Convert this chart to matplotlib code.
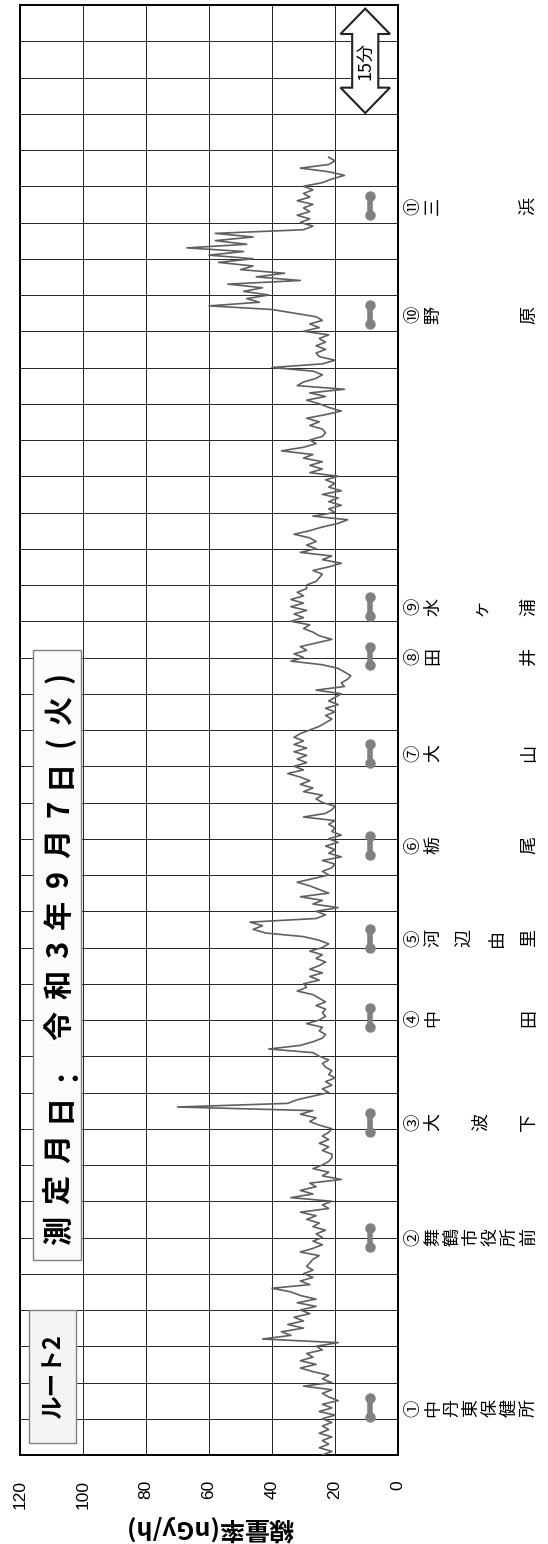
import matplotlib
matplotlib.use('Agg')
import matplotlib.pyplot as plt
import numpy as np
from matplotlib.patches import Polygon, Rectangle
from matplotlib.transforms import blended_transform_factory

plt.rcParams['font.family'] = ['Noto Sans CJK JP', 'DejaVu Sans']

# ---------------- data ----------------
step_min = 0.5  # minutes between readings
dose = [
    24, 21, 25, 22, 24, 21, 25, 22, 24,
    21, 24, 20, 25, 21, 24, 19, 22, 24, 21, 30, 21, 24, 22, 27, 31, 26, 31, 27, 29,
    24, 26, 19, 43, 34, 37, 30, 35, 30, 33, 28, 31, 26, 32,
    26, 31, 34, 40, 28, 31, 27, 30, 27, 29, 28, 27, 25, 31, 27, 24, 27, 24, 26, 23,
    27, 25, 29, 26, 31, 22, 24, 21, 34, 27, 31, 26, 28, 18, 24, 22, 27, 24, 22, 21,
    21, 24, 22, 25, 22, 24, 22, 21, 25, 28, 26, 31, 27, 70, 35, 32, 27, 22, 24, 21,
    23, 20, 22, 21, 23, 24, 22, 25, 27, 41, 31, 27, 24, 23, 25, 24, 29, 25, 23, 24,
    23, 26, 23, 25, 27, 32, 29, 30, 25, 28, 24, 28, 25, 23, 26, 24, 28, 24, 22, 25,
    30, 42, 46, 43, 47, 26, 23, 26, 19, 27, 24, 31, 22, 25, 28, 32, 27, 22, 24, 21,
    20, 24, 18, 22, 20, 23, 19, 22, 18, 21, 20, 22, 20, 30, 23, 21, 20, 24, 26, 24,
    30, 27, 31, 28, 31, 35, 30, 33, 29, 32, 29, 33, 29, 33, 30, 33, 31, 28, 25, 23,
    21, 23, 20, 23, 19, 22, 20, 18, 26, 17, 18, 16, 15, 17, 19, 24, 34, 30, 33, 29,
    31, 26, 21, 25, 27, 30, 28, 34, 30, 33, 29, 34, 30, 34, 30, 32, 29, 29, 26, 25,
    24, 27, 22, 18, 24, 21, 31, 26, 29, 26, 28, 33, 28, 24, 19, 16, 27, 20, 22, 18,
    22, 19, 24, 18, 22, 20, 23, 19, 28, 24, 28, 24, 30, 27, 37, 30, 26, 28, 24, 23,
    24, 28, 25, 29, 23, 18, 22, 25, 29, 23, 28, 17, 32, 30, 26, 24, 27, 40, 24, 20,
    25, 26, 23, 26, 23, 25, 22, 30, 25, 28, 24, 26, 33, 40, 60, 44, 48, 41, 49, 43,
    54, 31, 45, 36, 50, 46, 57, 46, 60, 49, 67, 48, 58, 46, 58, 30, 27, 31, 28, 32,
    28, 30, 27, 32, 28, 30, 27, 30, 24, 21, 17, 22, 31, 22, 20, 22,
]

station_nums = ['①', '②', '③', '④', '⑤', '⑥', '⑦', '⑧', '⑨', '⑩', '⑪']
station_names = ['中丹東保健所', '舞鶴市役所前', '大波下', '中田', '河辺由里',
                 '栃尾', '大山', '田井', '水ヶ浦', '野原', '三浜']
station_start = [5.2, 28.7, 44.6, 59.0, 70.0, 82.8, 95.5, 108.9, 115.7, 156.0, 171.0]
station_end = [7.8, 31.3, 47.2, 61.6, 72.6, 85.4, 98.1, 111.5, 118.3, 158.6, 173.6]
marker_level = 9

value_ticks = [0, 20, 40, 60, 80, 100, 120]
time_grid_step = 5
time_total = 200

title_route = 'ルート2'
title_date = '測定月日：令和3年9月7日(火)'
axis_label = '線量率(nGy/h)'
scale_label = '15分'

# ---------------- figure ----------------
W, H = 548, 1544
fig = plt.figure(figsize=(W / 100, H / 100), dpi=100)
L, R, T, B = 20, 398, 5, 1455
ax = fig.add_axes([L / W, 1 - B / H, (R - L) / W, (B - T) / H])

times = np.arange(len(dose)) * step_min
ax.plot(dose, times, color='#606060', lw=1.2, zorder=3)

ax.set_xlim(120, 0)
ax.set_ylim(0, time_total)
ax.set_xticks(value_ticks)
ax.set_yticks(np.arange(0, time_total + 1, time_grid_step))
ax.grid(True, color='black', lw=0.6)
ax.set_axisbelow(True)
ax.tick_params(axis='y', length=0, labelleft=False)
ax.tick_params(axis='x', length=0, pad=18, labelsize=12.5)
for lab in ax.get_xticklabels():
    lab.set_rotation(90)
    lab.set_fontfamily(['Liberation Sans'])
for s in ax.spines.values():
    s.set_linewidth(1.4)
    s.set_color('black')

# station markers and labels
trans_lbl = blended_transform_factory(fig.transFigure, ax.transData)
for num, name, t0, t1 in zip(station_nums, station_names, station_start, station_end):
    ax.plot([marker_level, marker_level], [t0, t1], color='#808080', lw=4,
            solid_capstyle='butt', marker='o', ms=6.5, zorder=4)
    tc = (t0 + t1) / 2
    ax.text(413 / W, tc, num, transform=trans_lbl, rotation=90, ha='center',
            va='center', fontsize=12.5, clip_on=False)
    xs = np.linspace(433, 529, len(name))
    for ch, xp in zip(name, xs):
        ax.text(xp / W, tc, ch, transform=trans_lbl, rotation=90, ha='center',
                va='center', fontsize=13, clip_on=False)

# 15-minute double arrow
ax_c, hw_s, hw_h = 10.4, 4.15, 7.85
ttop, tbot, hl = 199.5, 185.1, 3.5
arrow_pts = [(ax_c, ttop), (ax_c + hw_h, ttop - hl), (ax_c + hw_s, ttop - hl),
             (ax_c + hw_s, tbot + hl), (ax_c + hw_h, tbot + hl), (ax_c, tbot),
             (ax_c - hw_h, tbot + hl), (ax_c - hw_s, tbot + hl),
             (ax_c - hw_s, ttop - hl), (ax_c - hw_h, ttop - hl)]
ax.add_patch(Polygon(arrow_pts, closed=True, facecolor='white', edgecolor='#222222',
                     lw=1.5, zorder=5))
ax.text(ax_c, (ttop + tbot) / 2, scale_label, rotation=90, ha='center', va='center',
        fontsize=13, zorder=6)

# text boxes (figure pixel coordinates)
def fbox(x0, y0, x1, y1, fc):
    fig.patches.append(Rectangle((x0 / W, 1 - y1 / H), (x1 - x0) / W, (y1 - y0) / H,
                                 transform=fig.transFigure, facecolor=fc,
                                 edgecolor='#7f7f7f', lw=1.0, zorder=5))

def distributed(text, xc, y_lo, y_hi, fs):
    """vertical-reading text (rotated 90) spread evenly from y_hi (start) up to y_lo"""
    em = fs * 100 / 72
    widths = []
    for c in text:
        if ord(c) > 0x2000:
            widths.append(1.0)
        elif c in '()':
            widths.append(0.38)
        else:
            widths.append(0.6)
    total = sum(widths) * em
    gap = ((y_hi - y_lo) - total) / (len(text) - 1)
    y = y_hi
    for c, w in zip(text, widths):
        cy = y - w * em / 2
        fig.text((xc + 0.38 * em) / W, 1 - cy / H, c, rotation=90,
                 rotation_mode='anchor', ha='center', va='baseline',
                 fontsize=fs, fontweight='bold', zorder=6)
        y -= w * em + gap

fbox(29, 1310, 76, 1443, '#f4f4f4')
fig.text(52.5 / W, 1 - 1377 / H, title_route, rotation=90, ha='center', va='center',
         fontsize=17, fontweight='bold', zorder=6)
fbox(33, 650, 81, 1260, '#fbfbfb')
distributed(title_date, 57, 672, 1245, 21)

fig.text(210 / W, 1 - 1528 / H, axis_label, rotation=180, ha='center', va='center',
         fontsize=18, fontweight='bold')

fig.savefig('out.png', dpi=100)
